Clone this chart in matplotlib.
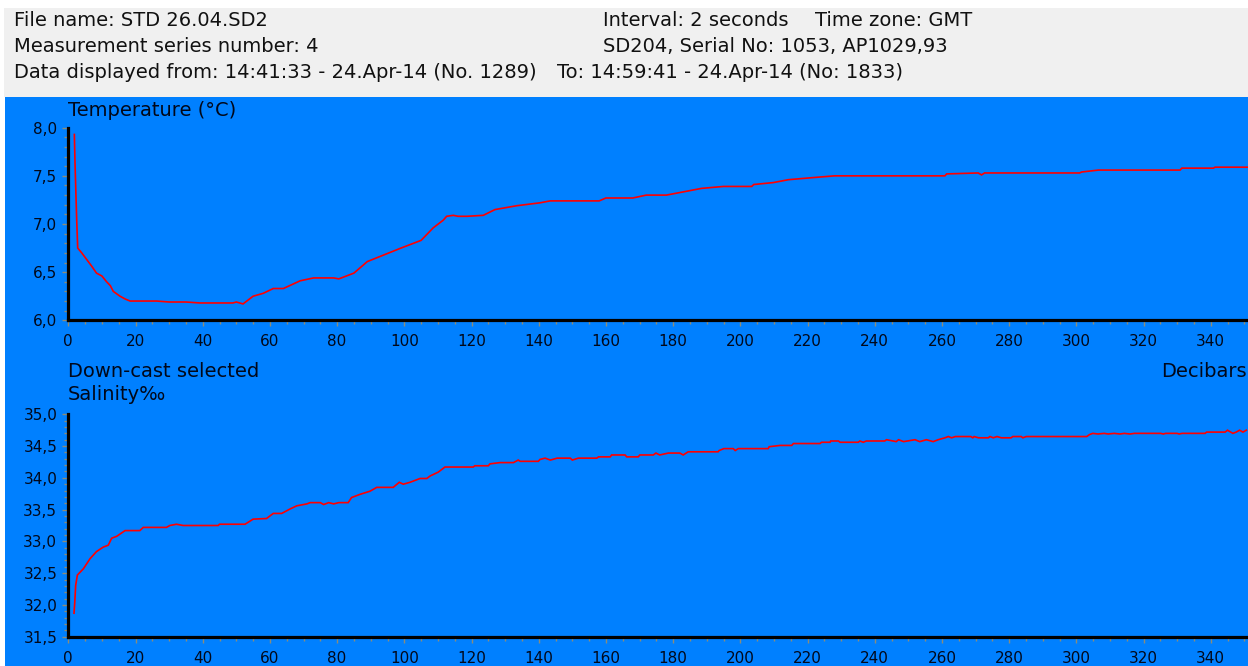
import matplotlib
matplotlib.use("Agg")
import matplotlib.pyplot as plt
from matplotlib.patches import Rectangle
from matplotlib.ticker import MultipleLocator, FuncFormatter

plt.rcParams['font.family'] = ['DejaVu Sans']

# ---------------- data ----------------
header_left = ["File name: STD 26.04.SD2",
               "Measurement series number: 4",
               "Data displayed from: 14:41:33 - 24.Apr-14 (No. 1289)"]
header_right = ["Interval: 2 seconds", "SD204, Serial No: 1053, AP1029,93",
                "To: 14:59:41 - 24.Apr-14 (No: 1833)"]
header_tz = "Time zone: GMT"

x_ticks = list(range(0, 341, 20))
temp_ticks = [6.0, 6.5, 7.0, 7.5, 8.0]
sal_ticks = [31.5, 32.0, 32.5, 33.0, 33.5, 34.0, 34.5, 35.0]

temp_depth = [1.8, 2.0, 2.5, 2.8, 4.0, 5.5, 7.0, 8.4, 10.0, 11.4,
              12.5, 13.4, 15.4, 17.0, 18.4, 22, 26.3, 30, 35, 39.2,
              45, 49, 50, 52, 55, 58, 61, 64, 69, 73,
              79, 80.5, 85, 89, 94, 99, 105, 108.6, 111.6, 112.6,
              114.6, 116, 118.7, 123.5, 127, 133.5, 140.4, 143.4, 158, 160,
              168, 172, 178, 181, 185.5, 188.5, 195, 203.4, 204, 209.8,
              214.3, 221, 228, 260.9, 261.4, 270.8, 271.8, 272.7, 301, 301.6,
              306.6, 330.9, 331.4, 340.8, 341.3, 351]
temp_values = [7.93, 7.63, 7.04, 6.75, 6.70, 6.63, 6.56, 6.49, 6.46, 6.40,
               6.36, 6.30, 6.25, 6.22, 6.20, 6.20, 6.20, 6.19, 6.19, 6.18,
               6.18, 6.18, 6.19, 6.17, 6.25, 6.28, 6.33, 6.33, 6.41, 6.44,
               6.44, 6.43, 6.49, 6.61, 6.68, 6.75, 6.83, 6.96, 7.04, 7.08,
               7.09, 7.08, 7.08, 7.09, 7.15, 7.19, 7.22, 7.24, 7.24, 7.27,
               7.27, 7.30, 7.30, 7.32, 7.35, 7.37, 7.39, 7.39, 7.41, 7.43,
               7.46, 7.48, 7.50, 7.50, 7.52, 7.53, 7.51, 7.53, 7.53, 7.54,
               7.56, 7.56, 7.58, 7.58, 7.59, 7.59]

sal_depth = [1.7, 1.9, 2.2, 2.7, 4.5, 6.5, 8.4, 10.4, 11.9, 12.9,
             14.4, 16.9, 21.3, 22.3, 29.2, 30.2, 32.2, 34.2, 44.6, 45.0,
             52.6, 55.0, 59.0, 61.0, 63.5, 66.0, 68.0, 71.0, 72.0, 75.0,
             76.0, 77.5, 79.0, 80.5, 83.3, 84.3, 86.8, 89.8, 91.8, 96.7,
             98.5, 99.7, 101.7, 104.7, 106.7, 107.7, 110.1, 112.1, 120.5, 121.0,
             125.0, 125.5, 128.5, 132.5, 133.9, 134.5, 139.9, 140.4, 141.9, 143.5,
             145.5, 149.4, 150.0, 151.8, 157.3, 157.8, 161.3, 161.7, 165.7, 166.2,
             169.6, 170.1, 174.1, 174.9, 176.0, 178.6, 182.0, 183.0, 184.5, 187.9,
             193.4, 193.7, 195.1, 197.9, 198.5, 199.4, 208.3, 208.6, 211.8, 215.3,
             215.8, 223.7, 224.2, 226.7, 226.9, 229.2, 229.7, 235.1, 235.6, 236.6,
             237.5, 243.0, 243.5, 246.4, 247.1, 248.6, 252.0, 253.4, 255.4, 257.4,
             258.9, 260.9, 261.9, 262.9, 264.0, 268.6, 269.2, 269.6, 270.9, 273.8,
             274.3, 275.3, 276.4, 277.7, 280.6, 281.1, 283.6, 284.1, 285.1, 303.1,
             303.9, 304.9, 306.5, 308.3, 309.5, 311.3, 313.0, 314.3, 316.0, 317.3,
             325.1, 325.9, 326.6, 330.0, 330.6, 331.5, 338.3, 338.8, 344.3, 345.0,
             346.6, 347.6, 348.6, 349.6, 350.6]
sal_values = [31.87, 32.02, 32.31, 32.47, 32.57, 32.73, 32.84, 32.91, 32.94, 33.05,
              33.08, 33.17, 33.17, 33.22, 33.22, 33.25, 33.27, 33.25, 33.25, 33.27,
              33.27, 33.35, 33.36, 33.44, 33.44, 33.51, 33.56, 33.59, 33.61, 33.61,
              33.58, 33.61, 33.59, 33.61, 33.61, 33.69, 33.74, 33.79, 33.85, 33.85,
              33.93, 33.90, 33.93, 33.99, 33.99, 34.03, 34.09, 34.17, 34.17, 34.19,
              34.19, 34.22, 34.24, 34.24, 34.28, 34.26, 34.26, 34.29, 34.31, 34.28,
              34.31, 34.31, 34.28, 34.31, 34.31, 34.33, 34.33, 34.36, 34.36, 34.33,
              34.33, 34.36, 34.36, 34.39, 34.36, 34.39, 34.39, 34.36, 34.41, 34.41,
              34.41, 34.43, 34.46, 34.46, 34.43, 34.46, 34.46, 34.49, 34.51, 34.51,
              34.54, 34.54, 34.56, 34.56, 34.58, 34.58, 34.56, 34.56, 34.58, 34.56,
              34.58, 34.58, 34.60, 34.57, 34.60, 34.57, 34.60, 34.57, 34.60, 34.57,
              34.60, 34.63, 34.65, 34.63, 34.65, 34.65, 34.63, 34.65, 34.63, 34.63,
              34.65, 34.63, 34.65, 34.63, 34.63, 34.65, 34.65, 34.63, 34.65, 34.65,
              34.68, 34.70, 34.69, 34.70, 34.69, 34.70, 34.69, 34.70, 34.69, 34.70,
              34.70, 34.69, 34.70, 34.70, 34.69, 34.70, 34.70, 34.72, 34.72, 34.75,
              34.70, 34.72, 34.75, 34.72, 34.75]

# ---------------- styling ----------------
W, H = 1248, 666
BLUE = '#0080ff'
GRAY = '#f0f0f0'
TXT = '#00081a'
TICKC = '#8c8c78'
FS_HEAD = 14
FS_TITLE = 14
FS_TICK = 11

fig = plt.figure(figsize=(W / 100, H / 100), dpi=100, facecolor='white')

def fx(px):
    return px / W

def fy(py):
    return 1 - py / H

fig.patches.append(Rectangle((fx(4), fy(97)), 1 - fx(4), fy(8) - fy(97),
                             transform=fig.transFigure, facecolor=GRAY,
                             edgecolor='none', zorder=-2))
fig.patches.append(Rectangle((fx(5), 0), 1 - fx(5), fy(97),
                             transform=fig.transFigure, facecolor=BLUE,
                             edgecolor='none', zorder=-2))

# header
for i, t in enumerate(header_left):
    fig.text(fx(14), fy(21 + 25.5 * i), t, fontsize=FS_HEAD, color='#111111',
             va='center', ha='left')
fig.text(fx(603), fy(21), header_right[0], fontsize=FS_HEAD, color='#111111', va='center')
fig.text(fx(603), fy(46.5), header_right[1], fontsize=FS_HEAD, color='#111111', va='center')
fig.text(fx(557), fy(72), header_right[2], fontsize=FS_HEAD, color='#111111', va='center')
fig.text(fx(815), fy(21), header_tz, fontsize=FS_HEAD, color='#111111', va='center')

left = fx(68.3)
x_max = (W - 68.3) / 3.36

ax1 = fig.add_axes([left, fy(320.3), 1 - left, fy(127.7) - fy(320.3)])
ax2 = fig.add_axes([left, fy(636.7), 1 - left, fy(414.3) - fy(636.7)])

def comma(v, pos):
    return f"{v:.1f}".replace('.', ',')

for ax, ylim, yt in ((ax1, (6.0, 8.0), temp_ticks), (ax2, (31.5, 35.0), sal_ticks)):
    ax.patch.set_visible(False)
    ax.set_xlim(0, x_max)
    ax.set_ylim(*ylim)
    ax.set_xticks(x_ticks)
    ax.xaxis.set_minor_locator(MultipleLocator(5))
    ax.set_yticks(yt)
    ax.yaxis.set_minor_locator(MultipleLocator(0.1))
    ax.yaxis.set_major_formatter(FuncFormatter(comma))
    for s in ('top', 'right'):
        ax.spines[s].set_visible(False)
    for s in ('left', 'bottom'):
        ax.spines[s].set_linewidth(2.3)
        ax.spines[s].set_color('black')
    ax.tick_params(which='major', length=4, width=1, color=TICKC,
                   labelsize=FS_TICK, labelcolor=TXT)
    ax.tick_params(which='minor', length=3, width=1, color=TICKC)
    ax.tick_params(axis='x', which='major', pad=6)
    ax.tick_params(axis='y', which='major', pad=4)

ax1.plot(temp_depth, temp_values, color='#ff0000', lw=1.2, solid_joinstyle='miter')
ax2.plot(sal_depth, sal_values, color='#ff0000', lw=1.2, solid_joinstyle='miter')

fig.text(fx(68), fy(111), "Temperature (°C)", fontsize=FS_TITLE, color=TXT, va='center')
fig.text(fx(68), fy(371), "Down-cast selected", fontsize=FS_TITLE, color=TXT, va='center')
fig.text(fx(68), fy(394), "Salinity‰", fontsize=FS_TITLE, color=TXT, va='center')
fig.text(fx(1247), fy(371), "Decibars", fontsize=FS_TITLE, color=TXT, va='center', ha='right')

fig.savefig("out.png", dpi=100, facecolor='white')
